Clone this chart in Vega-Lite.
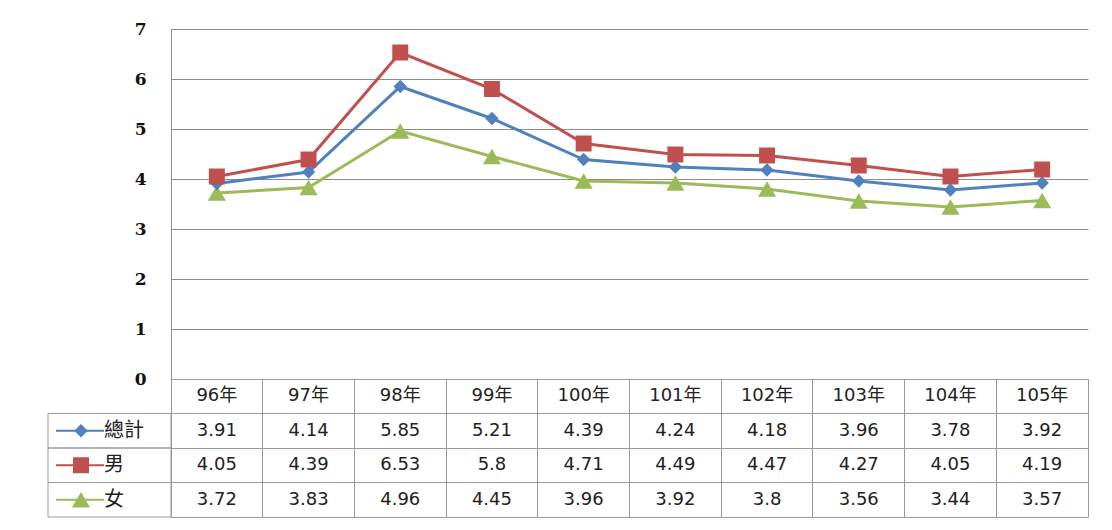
{
  "$schema": "https://vega.github.io/schema/vega-lite/v6.json",
  "background": "white",
  "padding": {"left": 47, "top": 20, "right": 25, "bottom": 14},
  "config": {"view": {"stroke": null}},
  "spacing": 0,
  "bounds": "flush",
  "columns": 2,
  "datasets": {
    "d": [
      {"year": "96年", "series": "女", "value": 3.72},
      {"year": "97年", "series": "女", "value": 3.83},
      {"year": "98年", "series": "女", "value": 4.96},
      {"year": "99年", "series": "女", "value": 4.45},
      {"year": "100年", "series": "女", "value": 3.96},
      {"year": "101年", "series": "女", "value": 3.92},
      {"year": "102年", "series": "女", "value": 3.8},
      {"year": "103年", "series": "女", "value": 3.56},
      {"year": "104年", "series": "女", "value": 3.44},
      {"year": "105年", "series": "女", "value": 3.57},
      {"year": "96年", "series": "總計", "value": 3.91},
      {"year": "97年", "series": "總計", "value": 4.14},
      {"year": "98年", "series": "總計", "value": 5.85},
      {"year": "99年", "series": "總計", "value": 5.21},
      {"year": "100年", "series": "總計", "value": 4.39},
      {"year": "101年", "series": "總計", "value": 4.24},
      {"year": "102年", "series": "總計", "value": 4.18},
      {"year": "103年", "series": "總計", "value": 3.96},
      {"year": "104年", "series": "總計", "value": 3.78},
      {"year": "105年", "series": "總計", "value": 3.92},
      {"year": "96年", "series": "男", "value": 4.05},
      {"year": "97年", "series": "男", "value": 4.39},
      {"year": "98年", "series": "男", "value": 6.53},
      {"year": "99年", "series": "男", "value": 5.8},
      {"year": "100年", "series": "男", "value": 4.71},
      {"year": "101年", "series": "男", "value": 4.49},
      {"year": "102年", "series": "男", "value": 4.47},
      {"year": "103年", "series": "男", "value": 4.27},
      {"year": "104年", "series": "男", "value": 4.05},
      {"year": "105年", "series": "男", "value": 4.19}
    ],
    "s": [{"series": "總計"}, {"series": "男"}, {"series": "女"}]
  },
  "concat": [
    {
      "width": 123,
      "height": 350,
      "data": {"values": [{}]},
      "mark": {"type": "point", "opacity": 0},
      "encoding": {}
    },
    {
      "width": 917,
      "height": 350,
      "data": {"name": "d"},
      "encoding": {
        "x": {"field": "year", "type": "nominal", "sort": null,
          "scale": {"type": "point", "padding": 0.5, "domain": ["96年","97年","98年","99年","100年","101年","102年","103年","104年","105年"]},
          "axis": null},
        "y": {"field": "value", "type": "quantitative",
          "scale": {"domain": [0, 7], "nice": false},
          "axis": {"values": [0,1,2,3,4,5,6,7], "grid": true, "gridColor": "#8c8c8c", "domainColor": "#8c8c8c", "ticks": false, "labelPadding": 25, "labelFont": "DejaVu Serif", "labelFontSize": 17, "labelFontWeight": "bold", "labelColor": "#111111", "title": null}},
        "color": {"field": "series", "type": "nominal",
          "scale": {"domain": ["總計", "男", "女"], "range": ["#4F81BD", "#C0504D", "#9BBB59"]},
          "legend": null}
      },
      "layer": [
        {"mark": {"type": "line", "strokeWidth": 3}},
        {"mark": {"type": "point", "filled": true, "opacity": 1},
          "encoding": {
            "shape": {"field": "series", "type": "nominal", "scale": {"domain": ["總計", "男", "女"], "range": ["diamond", "square", "triangle-up"]}, "legend": null},
            "size": {"field": "series", "type": "ordinal", "scale": {"domain": ["總計", "男", "女"], "range": [180, 330, 220]}, "legend": null}
          }}
      ]
    },
    {
      "width": 123,
      "height": 138,
      "data": {"name": "s"},
      "encoding": {
        "y": {"field": "series", "type": "nominal", "scale": {"type": "band", "domain": ["h", "總計", "男", "女"], "paddingInner": 0, "paddingOuter": 0}, "axis": null}
      },
      "layer": [
        {"mark": {"type": "rect", "fill": null, "stroke": "#9a9a9a", "strokeWidth": 1},
          "encoding": {
            "x": {"datum": 0, "type": "quantitative", "scale": {"domain": [0, 123], "nice": false}, "axis": null},
            "x2": {"datum": 123}
          }},
        {"mark": {"type": "rule", "strokeWidth": 2},
          "encoding": {
            "x": {"datum": 8, "type": "quantitative", "axis": null},
            "x2": {"datum": 56},
            "color": {"field": "series", "type": "nominal", "scale": {"domain": ["總計", "男", "女"], "range": ["#4F81BD", "#C0504D", "#9BBB59"]}, "legend": null}
          }},
        {"mark": {"type": "point", "filled": true, "opacity": 1},
          "encoding": {
            "x": {"datum": 33, "type": "quantitative", "axis": null},
            "color": {"field": "series", "type": "nominal", "legend": null},
            "shape": {"field": "series", "type": "nominal", "scale": {"domain": ["總計", "男", "女"], "range": ["diamond", "square", "triangle-up"]}, "legend": null},
            "size": {"field": "series", "type": "ordinal", "scale": {"domain": ["總計", "男", "女"], "range": [60, 130, 80]}, "legend": null}
          }},
        {"mark": {"type": "text", "align": "left", "baseline": "middle", "font": "Noto Sans CJK TC", "fontSize": 20, "color": "#222222"},
          "encoding": {
            "x": {"datum": 56, "type": "quantitative", "axis": null},
            "text": {"field": "series", "type": "nominal"}
          }}
      ]
    },
    {
      "width": 917,
      "height": 138,
      "data": {"name": "d"},
      "view": {"stroke": "#9a9a9a", "strokeWidth": 1},
      "encoding": {
        "x": {"field": "year", "type": "nominal", "sort": null,
          "scale": {"type": "band", "paddingInner": 0, "paddingOuter": 0, "domain": ["96年","97年","98年","99年","100年","101年","102年","103年","104年","105年"]},
          "axis": {"grid": true, "bandPosition": 0, "labels": false, "ticks": false, "domain": false, "title": null, "gridColor": "#9a9a9a"}}
      },
      "layer": [
        {"mark": {"type": "text", "font": "DejaVu Sans", "fontSize": 18, "color": "#222222", "baseline": "middle"},
          "encoding": {
            "y": {"field": "series", "type": "nominal", "scale": {"type": "band", "domain": ["h", "總計", "男", "女"], "paddingInner": 0, "paddingOuter": 0},
              "axis": {"grid": true, "bandPosition": 0, "labels": false, "ticks": false, "domain": false, "title": null, "gridColor": "#9a9a9a"}},
            "text": {"field": "value", "type": "nominal"}
          }},
        {"transform": [{"filter": "datum.series === '總計'"}],
          "mark": {"type": "text", "font": "DejaVu Sans, Noto Sans CJK TC", "fontSize": 18, "color": "#222222", "baseline": "middle"},
          "encoding": {
            "y": {"datum": "h", "type": "nominal"},
            "text": {"field": "year", "type": "nominal"}
          }}
      ]
    }
  ]
}
